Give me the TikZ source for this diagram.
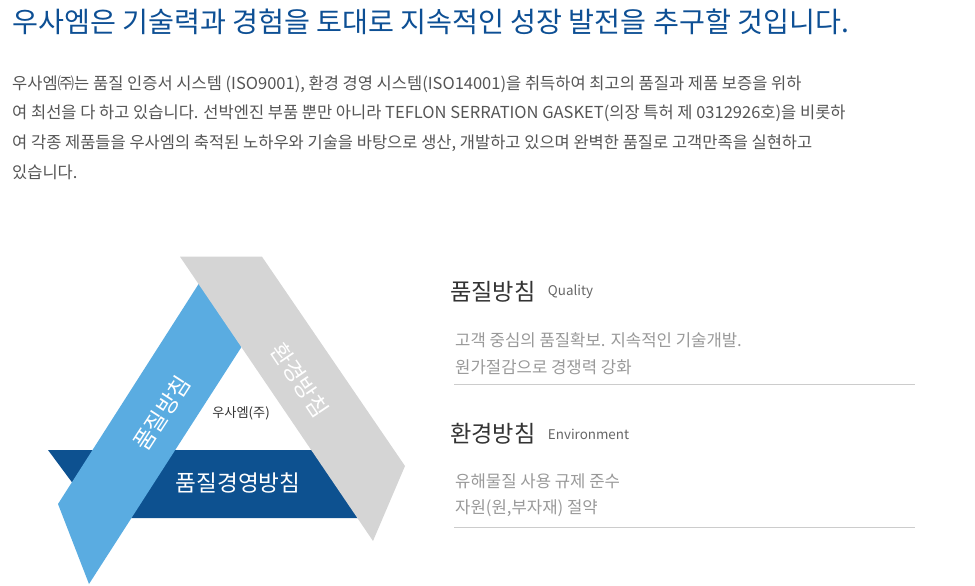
\documentclass[tikz,border=0pt]{standalone}
\usepackage{fontspec}
\setmainfont{Noto Sans CJK KR}
\usetikzlibrary{positioning}

\definecolor{titleblue}{HTML}{0D4F94}
\definecolor{qblue}{HTML}{5AACE1}
\definecolor{mblue}{HTML}{0D5190}
\definecolor{egray}{HTML}{D5D5D5}
\definecolor{bodygray}{HTML}{555555}
\definecolor{subgray}{HTML}{999999}
\definecolor{headgray}{HTML}{333333}
\definecolor{enggray}{HTML}{666666}
\definecolor{rulegray}{HTML}{CCCCCC}

\begin{document}
\begin{tikzpicture}[x=1pt,y=-1pt,node distance=29.5pt,
        txt/.style={inner sep=0pt,anchor=west},
        body/.style={txt,text=bodygray,font=\fontsize{16.5}{19}\selectfont},
        head/.style={txt,text=headgray,font=\fontsize{23.2}{27}\selectfont},
        eng/.style={txt,text=enggray,font=\fontsize{13.4}{16}\selectfont},
        sub/.style={txt,text=subgray,font=\fontsize{16.7}{19}\selectfont},
        bandtext/.style={inner sep=0pt,text=white,font=\fontsize{22.6}{26}\selectfont},
        rule/.style={draw=rulegray,line width=1pt}]

        \useasboundingbox (0,0) rectangle (975,586);

        \node[txt,text=titleblue,font=\fontsize{28.2}{32}\selectfont] (Title) at (12,22)
                {우사엠은 기술력과 경험을 토대로 지속적인 성장 발전을 추구할 것입니다.};

        \node[body]                                   (Par1) at (12,84)
                {우사엠㈜는 품질 인증서 시스템 (ISO9001), 환경 경영 시스템(ISO14001)을 취득하여 최고의 품질과 제품 보증을 위하};
        \node[body,below=of Par1.west,anchor=west]     (Par2)
                {여 최선을 다 하고 있습니다. 선박엔진 부품 뿐만 아니라 TEFLON SERRATION GASKET(의장 특허 제 0312926호)을 비롯하};
        \node[body,below=of Par2.west,anchor=west]     (Par3)
                {여 각종 제품들을 우사엠의 축적된 노하우와 기술을 바탕으로 생산, 개발하고 있으며 완벽한 품질로 고객만족을 실현하고};
        \node[body,below=of Par3.west,anchor=west]     (Par4)
                {있습니다.};

        % the three bands
        \fill[mblue]  (48,450) -- (330,450) -- (372,518) -- (98.5,518) -- cycle;
        \fill[qblue]  (205,274) -- (252.4,330) -- (89,584) -- (58,504) -- cycle;
        \fill[egray]  (180,256.7) -- (262,256.7) -- (405,466) -- (373,541) -- cycle;

        \node[bandtext,rotate=57]  (QBand) at (162,413) {품질방침};
        \node[bandtext,rotate=-56] (EBand) at (300,380) {환경방침};
        \node[bandtext]            (MBand) at (238,483) {품질경영방침};
        \node[inner sep=0pt,text=headgray,font=\fontsize{13.2}{15}\selectfont] (Core) at (241,413) {우사엠(주)};

        % quality policy
        \node[head]                                           (QHead) at (450,292) {품질방침};
        \node[eng,right=12pt of QHead]                        (QEng)  {Quality};
        \node[sub,below=48pt of QHead.west,anchor=west,xshift=5pt] (QLine1) {고객 중심의 품질확보. 지속적인 기술개발.};
        \node[sub,below=27pt of QLine1.west,anchor=west]      (QLine2) {원가절감으로 경쟁력 강화};
        \coordinate (QRuleL) at (454,384);
        \coordinate (QRuleR) at (915,384);
        \draw[rule] (QRuleL) -- (QRuleR);

        % environment policy
        \node[head]                                           (EHead) at (450,434) {환경방침};
        \node[eng,right=12pt of EHead]                        (EEng)  {Environment};
        \node[sub,below=47pt of EHead.west,anchor=west,xshift=5pt] (ELine1) {유해물질 사용 규제 준수};
        \node[sub,below=27pt of ELine1.west,anchor=west]      (ELine2) {자원(원,부자재) 절약};
        \coordinate (ERuleL) at (454,527);
        \coordinate (ERuleR) at (915,527);
        \draw[rule] (ERuleL) -- (ERuleR);
\end{tikzpicture}
\end{document}
